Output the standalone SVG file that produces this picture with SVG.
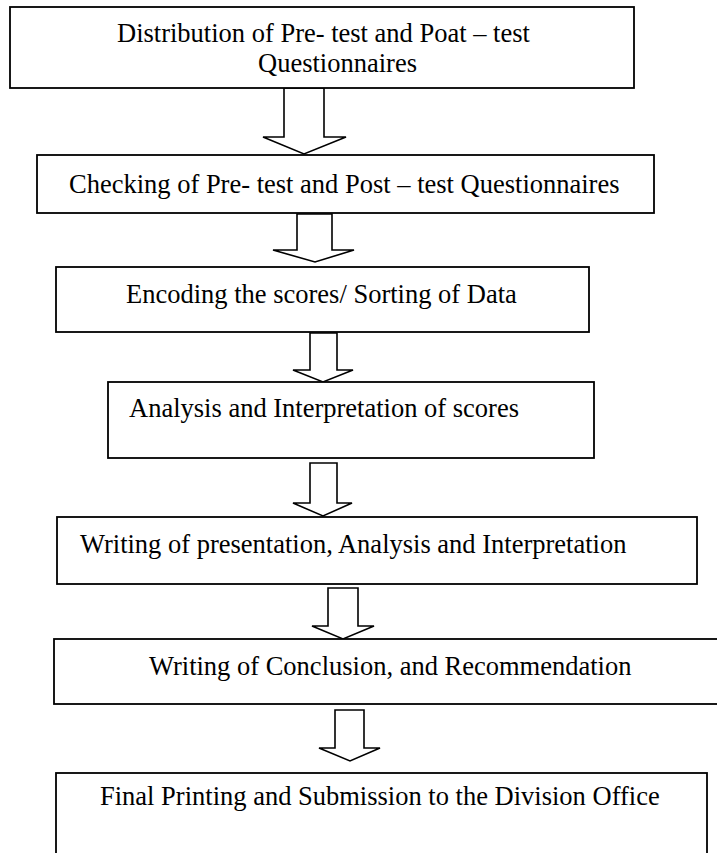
<svg xmlns="http://www.w3.org/2000/svg" width="717" height="853" viewBox="0 0 717 853">
<style>
.box{fill:#fff;stroke:#000;stroke-width:1.8}
.arr{fill:#fff;stroke:#000;stroke-width:1.6;stroke-linejoin:miter}
text{font-family:"Liberation Serif","Times New Roman",serif;font-size:26.5px;fill:#000}
</style>
<rect width="717" height="853" fill="#fff"/>
<g id="connectors">
<polygon class="arr" points="284,88 324,88 324,137 346,137 304,154 263,137 284,137"/>
<polygon class="arr" points="297,214 332,214 332,250 354,250 315,262 273,250 297,250"/>
<polygon class="arr" points="310,333 337,333 337,370 353,370 323,382 293,370 310,370"/>
<polygon class="arr" points="310,463 337,463 337,503 352,503 323,516 293,503 310,503"/>
<polygon class="arr" points="328,588 358,588 358,626 374,626 343,639 312,626 328,626"/>
<polygon class="arr" points="335,710 364,710 364,748 380,748 350,761 319,748 335,748"/>
</g>
<g id="n1">
<rect class="box" x="10" y="7" width="624" height="81"/>
<text x="117" y="42">Distribution of Pre- test and Poat – test</text>
<text x="258" y="72">Questionnaires</text>
</g>
<g id="n2">
<rect class="box" x="37" y="155" width="617" height="58"/>
<text x="69" y="193">Checking of Pre- test and Post – test Questionnaires</text>
</g>
<g id="n3">
<rect class="box" x="56" y="267" width="533" height="65"/>
<text x="126" y="303">Encoding the scores/ Sorting of Data</text>
</g>
<g id="n4">
<rect class="box" x="108" y="382" width="486" height="76"/>
<text x="129" y="417">Analysis and Interpretation of scores</text>
</g>
<g id="n5">
<rect class="box" x="57" y="517" width="640" height="67"/>
<text x="80" y="553">Writing of presentation, Analysis and Interpretation</text>
</g>
<g id="n6">
<rect class="box" x="54" y="639" width="680" height="65"/>
<text x="149" y="675">Writing of Conclusion, and Recommendation</text>
</g>
<g id="n7">
<rect class="box" x="56" y="773" width="651" height="100"/>
<text x="100" y="805">Final Printing and Submission to the Division Office</text>
</g>
</svg>
